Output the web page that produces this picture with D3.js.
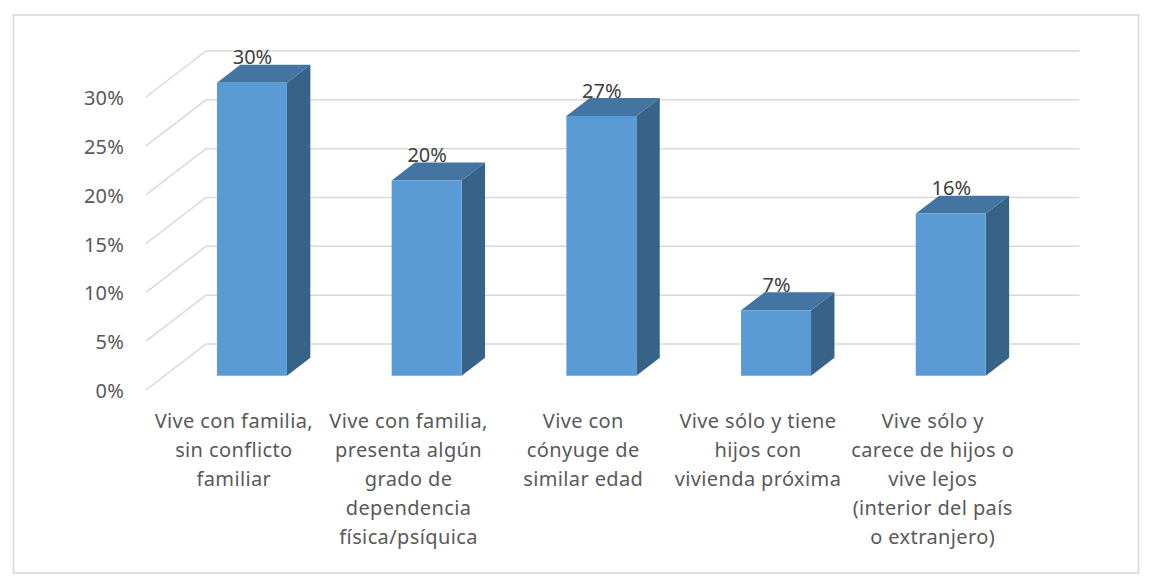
<!DOCTYPE html>
<html><head><meta charset="utf-8">
<script src="https://cdnjs.cloudflare.com/ajax/libs/d3/7.8.5/d3.min.js"></script>
<style>html,body{margin:0;padding:0;background:#fff}svg{display:block}</style>
</head><body><svg id="c" width="1153" height="586"></svg>
<script>
const categories = [
  ["Vive con familia,","sin conflicto","familiar"],
  ["Vive con familia,","presenta algún","grado de","dependencia","física/psíquica"],
  ["Vive con","cónyuge de","similar edad"],
  ["Vive sólo y tiene","hijos con","vivienda próxima"],
  ["Vive sólo y","carece de hijos o","vive lejos","(interior del país","o extranjero)"]
];
const values = [30, 20, 26.6, 6.7, 16.6];
const valueLabels = ["30%","20%","27%","7%","16%"];
const ticks = [0,5,10,15,20,25,30];

const FONT = "'Noto Sans', sans-serif", GRID = "#d9d9d9", TXT = "#595959";
const svg = d3.select("#c");
const x = d3.scaleBand().domain(d3.range(categories.length)).range([146,1019.5]);
const y = d3.scaleLinear().domain([0,30]).range([390,97]);
const DX = 60, DY = 46;
const px = (xv,z)=>xv+DX*z, py = (yv,z)=>yv-DY*z;

svg.append("rect").attr("x",13.5).attr("y",15).attr("width",1125).attr("height",558)
  .attr("fill","#fff").attr("stroke",GRID).attr("stroke-width",1.6);

const grid = svg.append("g");
ticks.forEach(t=>{
  grid.append("path").attr("fill","none").attr("stroke",GRID).attr("stroke-width",1.5)
    .attr("d",d3.line()([[px(146,0),py(y(t),0)],[px(146,1),py(y(t),1)],[px(1019.5,1),py(y(t),1)]]));
  svg.append("text").attr("x",124).attr("y",y(t)+8).attr("text-anchor","end")
    .attr("font-family",FONT).attr("font-size",20).attr("letter-spacing",0.2).attr("fill",TXT).text(t+"%");
});

const z0=0.31, z1=0.70, barW=70;
categories.forEach((c,i)=>{
  const l = x(i)+x.bandwidth()/2-barW/2, r=l+barW, b=y(0), t=y(values[i]);
  const g = svg.append("g");
  const poly=(pts,fill)=>g.append("polygon").attr("points",pts.map(p=>p.join(",")).join(" ")).attr("fill",fill);
  poly([[px(r,z0),py(b,z0)],[px(r,z1),py(b,z1)],[px(r,z1),py(t,z1)],[px(r,z0),py(t,z0)]],"#376389");
  poly([[px(l,z0),py(t,z0)],[px(r,z0),py(t,z0)],[px(r,z1),py(t,z1)],[px(l,z1),py(t,z1)]],"#4475a2");
  poly([[px(l,z0),py(t,z0)],[px(r,z0),py(t,z0)],[px(r,z0),py(b,z0)],[px(l,z0),py(b,z0)]],"#5b9bd5");
  svg.append("text").attr("x",px(l+barW/2,z0)+0.5).attr("y",py(t,z1)-0.5).attr("text-anchor","middle")
    .attr("font-family",FONT).attr("font-size",20).attr("fill","#404040").text(valueLabels[i]);
  const lab = svg.append("text").attr("text-anchor","middle").attr("font-family",FONT)
    .attr("font-size",20).attr("letter-spacing",0.38).attr("fill",TXT);
  c.forEach((s,k)=>lab.append("tspan").attr("x",x(i)+x.bandwidth()/2+0.5).attr("y",428+k*29).text(s));
});
</script></body></html>
